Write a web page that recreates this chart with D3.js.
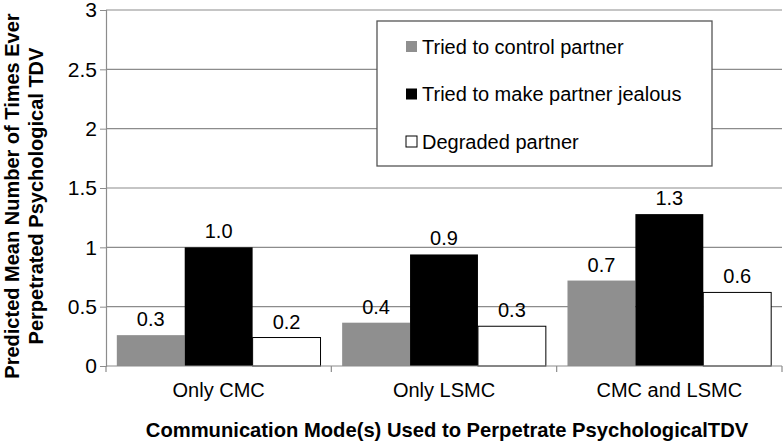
<!DOCTYPE html>
<html>
<head>
<meta charset="utf-8">
<script src="https://cdn.jsdelivr.net/npm/d3@7"></script>
<style>
  body { margin: 0; background: #fff; }
  text { font-family: "Liberation Sans", Arial, sans-serif; fill: #000; }
</style>
</head>
<body>
<svg width="783" height="442"></svg>
<script>
// data
var categories = ["Only CMC", "Only LSMC", "CMC and LSMC"];
var seriesNames = ["Tried to control partner", "Tried to make partner jealous", "Degraded partner"];
var controlVals = [0.26, 0.365, 0.72];
var jealousVals = [1.0, 0.94, 1.28];
var degradedVals = [0.24, 0.335, 0.62];
var valueLabels = [["0.3", "1.0", "0.2"], ["0.4", "0.9", "0.3"], ["0.7", "1.3", "0.6"]];
var yTicks = [0, 0.5, 1, 1.5, 2, 2.5, 3];

var svg = d3.select("svg"), width = +svg.attr("width"), height = +svg.attr("height");
var plotLeft = 106, plotRight = 782, plotTop = 10, plotBottom = 366;

var fills = ["#8f8f8f", "#000000", "#ffffff"];

var y = d3.scaleLinear().domain([0, 3]).range([plotBottom, plotTop]);
var x0 = d3.scaleBand().domain(categories).range([plotLeft, plotRight]);
var bw = x0.bandwidth();
var x1 = d3.scaleBand().domain(seriesNames).range([bw * 0.048, bw * 0.952]);

// rows: one object per category
var rows = categories.map(function(c, i) {
  return { cat: c, vals: [controlVals[i], jealousVals[i], degradedVals[i]], labels: valueLabels[i] };
});

// gridlines
svg.append("g")
  .selectAll("line").data(yTicks.slice(1)).enter().append("line")
  .attr("x1", plotLeft).attr("x2", plotRight)
  .attr("y1", function(d) { return y(d); }).attr("y2", function(d) { return y(d); })
  .attr("stroke", "#8c8c8c").attr("stroke-width", 1.2);

// y axis
var yAxis = svg.append("g").attr("transform", "translate(" + plotLeft + ",0)")
  .call(d3.axisLeft(y).tickValues(yTicks).tickSize(6).tickPadding(3).tickFormat(function(d) { return d; }));
yAxis.select(".domain").attr("stroke", "#8c8c8c").attr("stroke-width", 1.2);
yAxis.selectAll(".tick line").attr("stroke", "#8c8c8c");
yAxis.selectAll("text").style("font-size", "21px").attr("fill", "#000");

// bars
var groups = svg.append("g").selectAll("g").data(rows).enter().append("g")
  .attr("transform", function(d) { return "translate(" + x0(d.cat) + ",0)"; });

groups.selectAll("rect").data(function(d) { return d.vals.map(function(v, k) { return { k: k, v: v }; }); })
  .enter().append("rect")
  .attr("x", function(d) { return x1(seriesNames[d.k]); })
  .attr("width", x1.bandwidth())
  .attr("y", function(d) { return y(d.v); })
  .attr("height", function(d) { return plotBottom - y(d.v); })
  .attr("fill", function(d) { return fills[d.k]; })
  .attr("stroke", function(d) { return d.k == 2 ? "#000" : "none"; })
  .attr("stroke-width", 1);

groups.selectAll("text.val").data(function(d) { return d.vals.map(function(v, k) { return { k: k, v: v, t: d.labels[k] }; }); })
  .enter().append("text").attr("class", "val")
  .attr("x", function(d) { return x1(seriesNames[d.k]) + x1.bandwidth() / 2; })
  .attr("y", function(d) { return y(d.v) - 9; })
  .attr("text-anchor", "middle")
  .style("font-size", "20px")
  .text(function(d) { return d.t; });

// x axis
var xAxis = svg.append("g").attr("transform", "translate(0," + plotBottom + ")");
xAxis.append("line").attr("x1", plotLeft).attr("x2", plotRight).attr("stroke", "#8c8c8c").attr("stroke-width", 1.2);
xAxis.selectAll("line.tk").data(categories.concat([null])).enter().append("line").attr("class", "tk")
  .attr("x1", function(d, i) { return plotLeft + i * bw; }).attr("x2", function(d, i) { return plotLeft + i * bw; })
  .attr("y1", 0).attr("y2", 6).attr("stroke", "#8c8c8c").attr("stroke-width", 1.2);
xAxis.selectAll("text").data(categories).enter().append("text")
  .attr("x", function(d) { return x0(d) + bw / 2; })
  .attr("y", 31)
  .attr("text-anchor", "middle")
  .style("font-size", "20px")
  .text(function(d) { return d; });

// axis titles
svg.append("text")
  .attr("x", 447).attr("y", 437)
  .attr("text-anchor", "middle")
  .style("font-size", "20.2px").style("font-weight", "bold")
  .text("Communication Mode(s) Used to Perpetrate PsychologicalTDV");

var yTitle = svg.append("text")
  .attr("transform", "translate(0,196) rotate(-90)")
  .attr("text-anchor", "middle")
  .style("font-size", "20px").style("font-weight", "bold");
yTitle.append("tspan").attr("x", 0).attr("y", 19).text("Predicted Mean Number of Times Ever");
yTitle.append("tspan").attr("x", 0).attr("y", 43).text("Perpetrated Psychological TDV");

// legend
var legend = svg.append("g").attr("transform", "translate(377,21)");
legend.append("rect").attr("width", 335).attr("height", 145)
  .attr("fill", "#fff").attr("stroke", "#555").attr("stroke-width", 1.3);
var items = legend.selectAll("g.item").data(seriesNames).enter().append("g").attr("class", "item")
  .attr("transform", function(d, i) { return "translate(29," + (25 + i * 47.5) + ")"; });
items.append("rect").attr("x", 0).attr("y", -5).attr("width", 11).attr("height", 11)
  .attr("fill", function(d, i) { return fills[i]; })
  .attr("stroke", function(d, i) { return i == 2 ? "#000" : "none"; });
items.append("text").attr("x", 16).attr("y", 7.5)
  .style("font-size", "20px")
  .text(function(d) { return d; });
</script>
</body>
</html>
